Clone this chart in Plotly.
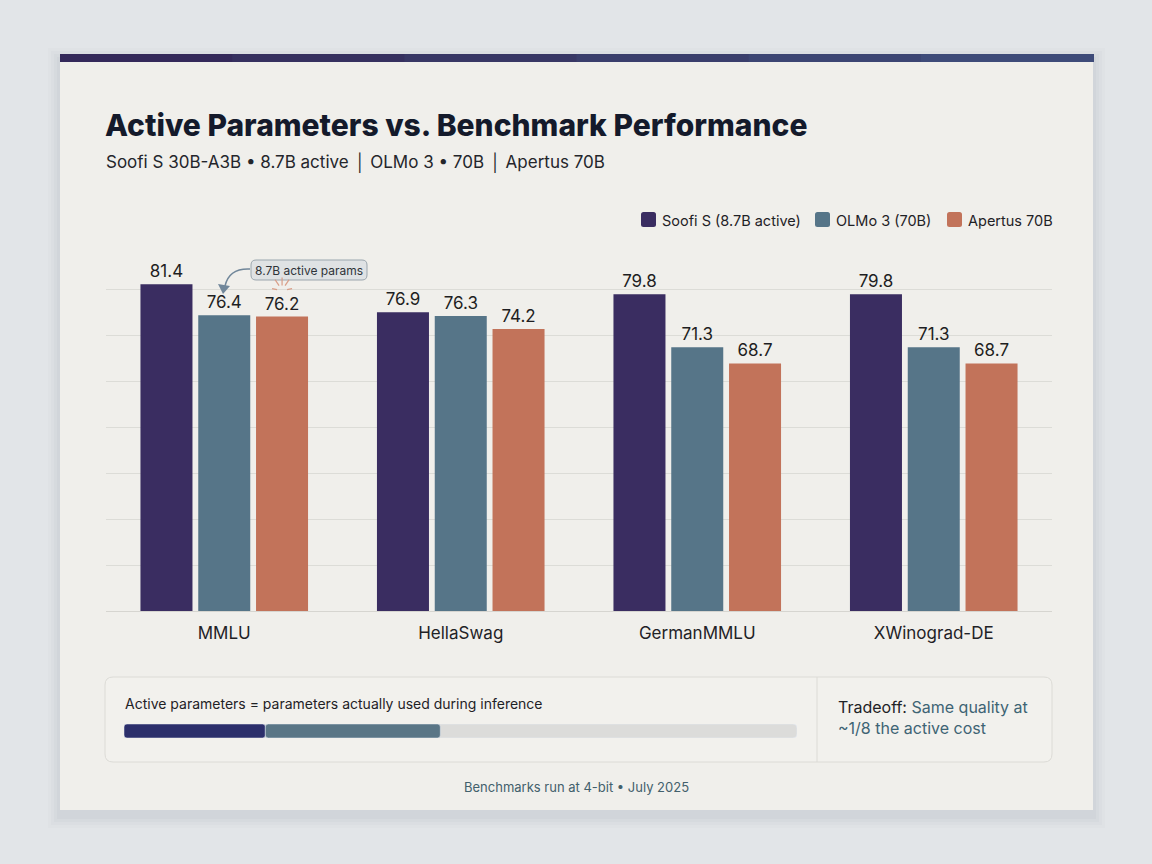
import plotly.graph_objects as go

## chart data
benchmarks = ["MMLU", "HellaSwag", "GermanMMLU", "XWinograd-DE"]
models = ["Soofi S (8.7B active)", "OLMo 3 (70B)", "Apertus 70B"]
scores = {
    "Soofi S (8.7B active)": [81.4, 76.9, 79.8, 79.8],
    "OLMo 3 (70B)": [76.4, 76.3, 71.3, 71.3],
    "Apertus 70B": [76.2, 74.2, 68.7, 68.7],
}
colors = ["#3a2d61", "#567588", "#c2735a"]

# active-parameter strip in the footer panel (percent of the track)
strip_names = ["Soofi S active", "OLMo 3 active"]
strip_values = [21, 26]
strip_colors = ["#2c2f6b", "#5a7686"]

W, H = 1152, 864


def X(px):
    return px / W


def Y(py):
    return 1 - py / H


def rounded(x0, y0, x1, y1, r):
    # rounded rectangle path in paper coords, input in pixels
    pts = [
        f"M {X(x0 + r)},{Y(y0)}",
        f"L {X(x1 - r)},{Y(y0)}",
        f"Q {X(x1)},{Y(y0)} {X(x1)},{Y(y0 + r)}",
        f"L {X(x1)},{Y(y1 - r)}",
        f"Q {X(x1)},{Y(y1)} {X(x1 - r)},{Y(y1)}",
        f"L {X(x0 + r)},{Y(y1)}",
        f"Q {X(x0)},{Y(y1)} {X(x0)},{Y(y1 - r)}",
        f"L {X(x0)},{Y(y0 + r)}",
        f"Q {X(x0)},{Y(y0)} {X(x0 + r)},{Y(y0)} Z",
    ]
    return " ".join(pts)


fig = go.Figure()

for name, col in zip(models, colors):
    fig.add_trace(go.Bar(
        x=benchmarks, y=scores[name], name=name,
        marker=dict(color=col, line=dict(width=0)),
        text=[f"{v:.1f}" for v in scores[name]],
        textposition="outside", cliponaxis=False,
        textfont=dict(size=17, color="#1e1e22", family="Inter"),
        xaxis="x", yaxis="y",
    ))

# footer strip: grey track then coloured segments
fig.add_trace(go.Bar(
    x=[100], y=["s"], base=[0], orientation="h", width=1,
    marker=dict(color="#dcdcda", cornerradius=4), offsetgroup="strip",
    showlegend=False, xaxis="x2", yaxis="y2", hoverinfo="skip",
))
start = 0
for nm, v, c in zip(strip_names, strip_values, strip_colors):
    fig.add_trace(go.Bar(
        x=[v], y=["s"], base=[start], orientation="h", width=1, name=nm,
        marker=dict(color=c, cornerradius=3), offsetgroup="strip",
        showlegend=False, xaxis="x2", yaxis="y2",
    ))
    start += v

shapes = []
# card shadow + card
for i, op in enumerate([0.015, 0.02, 0.025, 0.03]):
    d = 12 - i * 3
    shapes.append(dict(type="rect", xref="paper", yref="paper",
                       x0=X(60 - d), x1=X(1093 + d), y0=Y(54 - d + 6), y1=Y(810 + d + 6),
                       fillcolor=f"rgba(60,70,90,{op})", line=dict(width=0), layer="below"))
shapes.append(dict(type="rect", xref="paper", yref="paper",
                   x0=X(60), x1=X(1093), y0=Y(54), y1=Y(810),
                   fillcolor="#f0efeb", line=dict(width=0), layer="below"))
# top band (stepped to hint the gradient)
band = ["#34295a", "#36305f", "#383765", "#3a3e6c", "#3c4573", "#3e4b79"]
bw = (1093 - 60) / len(band)
for i, c in enumerate(band):
    shapes.append(dict(type="rect", xref="paper", yref="paper",
                       x0=X(60 + i * bw), x1=X(60 + (i + 1) * bw + 1), y0=Y(54), y1=Y(62),
                       fillcolor=c, line=dict(width=0), layer="below"))
# bottom panel
shapes.append(dict(type="path", xref="paper", yref="paper",
                   path=rounded(105, 677, 1052, 762, 8),
                   fillcolor="#f2f1ed", line=dict(color="#dcdbd6", width=1), layer="below"))
shapes.append(dict(type="line", xref="paper", yref="paper",
                   x0=X(817), x1=X(817), y0=Y(677), y1=Y(762),
                   line=dict(color="#dcdbd6", width=1), layer="below"))
# callout box and curved arrow
shapes.append(dict(type="path", xref="paper", yref="paper",
                   path=rounded(251, 260, 367, 280, 5),
                   fillcolor="#dfe2e4", line=dict(color="#9ba6ae", width=1)))
shapes.append(dict(type="path", xref="paper", yref="paper",
                   path=f"M {X(250)},{Y(269)} Q {X(229)},{Y(268)} {X(225)},{Y(286)}",
                   line=dict(color="#71879a", width=1.5)))
shapes.append(dict(type="path", xref="paper", yref="paper",
                   path=f"M {X(223)},{Y(294)} L {X(218)},{Y(284)} L {X(230)},{Y(286)} Z",
                   fillcolor="#71879a", line=dict(width=0)))
# little spark above the Apertus MMLU label, anchored to the bar top
spark_x = 0.2445
spark_y = scores["Apertus 70B"][0]
for (a, b, c, d) in [(0, 31, 0, 39), (-3, 31, -7, 37), (3, 31, 7, 37),
                     (-5, 27, -10, 28), (5, 27, 10, 28)]:
    shapes.append(dict(type="line", xref="x", yref="y",
                       xsizemode="pixel", ysizemode="pixel",
                       xanchor=spark_x, yanchor=spark_y,
                       x0=a, x1=c, y0=b, y1=d,
                       line=dict(color="#d99e88", width=1.2)))

# hand-made legend
leg_x = [641, 815, 947]
for lx, name, col in zip(leg_x, models, colors):
    shapes.append(dict(type="path", xref="paper", yref="paper",
                       path=rounded(lx, 212, lx + 15, 227, 2.5),
                       fillcolor=col, line=dict(width=0)))

annotations = [
    dict(text="Active Parameters vs. Benchmark Performance",
         x=X(103), y=Y(125), xanchor="left", yanchor="middle",
         font=dict(size=30, color="#141a2b", family="Inter", weight=800)),
    dict(text="Soofi S 30B-A3B • 8.7B active │ OLMo 3 • 70B │ Apertus 70B",
         x=X(104), y=Y(163), xanchor="left", yanchor="middle",
         font=dict(size=17, color="#24262b", family="Inter")),
    dict(text="8.7B active params", x=X(309), y=Y(270), xanchor="center", yanchor="middle",
         font=dict(size=12, color="#2f3439", family="Inter")),
    dict(text="Active parameters = parameters actually used during inference",
         x=X(123), y=Y(703), xanchor="left", yanchor="middle",
         font=dict(size=14, color="#1f2226", family="Inter")),
    dict(text="Tradeoff: <span style='color:#3e6474'>Same quality at</span><br>"
              "<span style='color:#3e6474'>~1/8 the active cost</span>",
         x=X(836), y=Y(717), xanchor="left", yanchor="middle", align="left",
         font=dict(size=16, color="#1f2226", family="Inter")),
    dict(text="Benchmarks run at 4-bit • July 2025",
         x=X(576), y=Y(787), xanchor="center", yanchor="middle",
         font=dict(size=13, color="#42606c", family="Inter")),
]
for lx, name in zip(leg_x, models):
    annotations.append(dict(text=name, x=X(lx + 19), y=Y(220), xanchor="left", yanchor="middle",
                            font=dict(size=14.5, color="#1f2226", family="Inter")))
for a in annotations:
    a.update(xref="paper", yref="paper", showarrow=False)

fig.update_layout(
    width=W, height=H, autosize=False,
    margin=dict(l=0, r=0, t=0, b=0),
    paper_bgcolor="#e2e5e8", plot_bgcolor="rgba(0,0,0,0)",
    barmode="group", bargap=0.267, bargroupgap=0.1,
    font=dict(family="Inter", color="#1f2226"),
    showlegend=False,
    xaxis=dict(domain=[X(106), X(1052)], showgrid=False, showline=True, linecolor="#d6d5d0",
               tickfont=dict(size=17, color="#1f2226", family="Inter"), ticks="",
               ticklabelstandoff=7),
    yaxis=dict(domain=[Y(611), Y(243)], range=[29, 88], dtick=59 / 8, tick0=29,
               showgrid=True, gridcolor="#dcdcd7", gridwidth=1, showticklabels=False,
               zeroline=False),
    xaxis2=dict(domain=[X(124), X(797)], range=[0, 100], visible=False, anchor="y2"),
    yaxis2=dict(domain=[Y(738), Y(724)], range=[-0.5, 0.5], visible=False, anchor="x2"),
    shapes=shapes, annotations=annotations,
)

fig.write_html("out.html", post_script="document.body.style.margin='0';",
               config={"displayModeBar": False})
